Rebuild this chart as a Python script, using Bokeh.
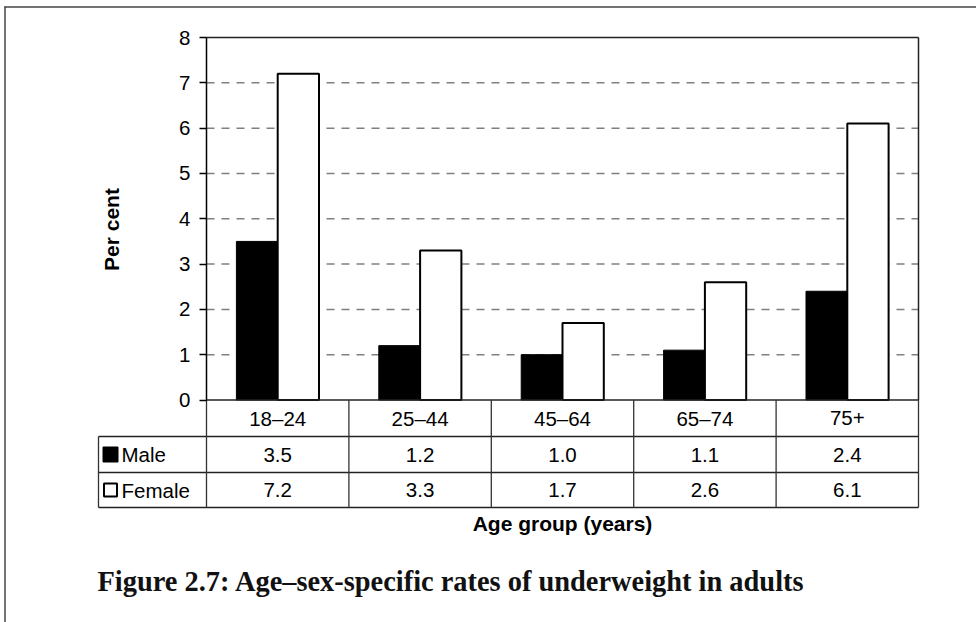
import math
from bokeh.plotting import figure
from bokeh.models import Range1d, LinearAxis, FixedTicker
from bokeh.core.properties import value
from bokeh.embed import file_html
from bokeh.resources import INLINE

# ---------------- data ----------------
categories = ["18–24", "25–44", "45–64", "65–74", "75+"]
male = [3.5, 1.2, 1.0, 1.1, 2.4]
female = [7.2, 3.3, 1.7, 2.6, 6.1]
series = ["Male", "Female"]
y_ticks = [0, 1, 2, 3, 4, 5, 6, 7, 8]
y_label = "Per cent"
x_label = "Age group (years)"
title = "Figure 2.7: Age–sex-specific rates of underweight in adults"

# ---------------- layout (pixels in figure space) ----------------
W, H = 976, 622
PX_X0, PX_X1 = 206.0, 918.0      # plot-area left / right
PX_Y0, PX_YTOP = 399.5, 37.0     # value 0 / value 8
n = len(categories)
ymax = y_ticks[-1]
PX_PER_X = (PX_X1 - PX_X0) / n
PX_PER_Y = (PX_Y0 - PX_YTOP) / ymax


def dx(px):
    return (px - PX_X0) / PX_PER_X


def dy(py):
    return (PX_Y0 - py) / PX_PER_Y


ROW1, ROW2, ROW3 = 436.0, 472.0, 507.0   # table row bottoms
TABLE_LEFT = 98.0

p = figure(width=W, height=H,
           x_range=Range1d(dx(0), dx(W)), y_range=Range1d(dy(H), dy(0)),
           x_axis_type=None, y_axis_type=None,
           toolbar_location=None, tools="", output_backend="svg",
           min_border=0, outline_line_color=None,
           background_fill_color="white", border_fill_color="white")

FONT = value("Liberation Sans")

# outer frame (top and left)
p.segment(x0=[dx(4), dx(4.5)], y0=[dy(6.5), dy(6)],
          x1=[dx(W), dx(4.5)], y1=[dy(6.5), dy(H)],
          line_color="#444444", line_width=1.5)

# dashed grid
grid_y = [t for t in y_ticks if 0 < t < ymax]
p.segment(x0=[0] * len(grid_y), x1=[n] * len(grid_y), y0=grid_y, y1=grid_y,
          line_color="#808080", line_width=1.5, line_dash="8 7")

# plot-area top and right borders
p.segment(x0=[0, n], x1=[n, n], y0=[ymax, 0], y1=[ymax, ymax],
          line_color="#222222", line_width=1.5)

# bars
bw = 0.29
centers = [i + 0.5 for i in range(n)]
p.vbar(x=[c - bw / 2 for c in centers], top=male, bottom=0, width=bw,
       fill_color="black", line_color="black", line_width=1)
p.vbar(x=[c + bw / 2 for c in centers], top=female, bottom=0, width=bw,
       fill_color="white", line_color="black", line_width=2)

# table lines
r1, r2, r3 = dy(ROW1), dy(ROW2), dy(ROW3)
tl = dx(TABLE_LEFT)
hx0 = [0, tl, tl, tl]
hx1 = [n, n, n, n]
hy = [0, r1, r2, r3]
p.segment(x0=hx0, x1=hx1, y0=hy, y1=hy, line_color="#222222", line_width=1.3)
vx = list(range(n + 1)) + [tl]
vy0 = [0] * (n + 1) + [r1]
vy1 = [r3] * (n + 2)
p.segment(x0=vx, x1=vx, y0=vy0, y1=vy1, line_color="#333333", line_width=1.3)

# y axis
ax = LinearAxis(fixed_location=0, ticker=FixedTicker(ticks=y_ticks), bounds=(0, ymax))
ax.axis_line_color = "black"
ax.axis_line_width = 1.5
ax.major_tick_out = 7
ax.major_tick_in = 0
ax.major_tick_line_color = "black"
ax.major_tick_line_width = 1.3
ax.minor_tick_line_color = None
ax.major_label_text_font = "Liberation Sans"
ax.major_label_text_font_size = "20.5px"
ax.major_label_text_color = "black"
ax.major_label_standoff = 9
p.add_layout(ax, "left")

# table texts
row1_mid = (0 + r1) / 2
row2_mid = (r1 + r2) / 2
row3_mid = (r2 + r3) / 2
TS = "20.5px"
p.text(x=centers, y=[row1_mid] * n, text=categories, text_font=FONT,
       text_font_size=TS, text_align="center", text_baseline="middle", text_color="black")
p.text(x=centers, y=[row2_mid] * n, text=["%.1f" % v for v in male], text_font=FONT,
       text_font_size=TS, text_align="center", text_baseline="middle", text_color="black")
p.text(x=centers, y=[row3_mid] * n, text=["%.1f" % v for v in female], text_font=FONT,
       text_font_size=TS, text_align="center", text_baseline="middle", text_color="black")

# legend keys in table
kx = dx(110)
p.scatter(x=[kx], y=[row2_mid], marker="square", size=15,
          fill_color="black", line_color="black", line_width=1)
p.scatter(x=[kx], y=[row3_mid], marker="square", size=13,
          fill_color="white", line_color="black", line_width=2)
p.text(x=[dx(121)] * 2, y=[row2_mid, row3_mid], text=series, text_font=FONT,
       text_font_size=TS, text_align="left", text_baseline="middle", text_color="black")

# axis labels
p.text(x=[dx(111)], y=[dy(229)], text=[y_label], angle=math.pi / 2, text_font=FONT,
       text_font_size="21px", text_font_style="bold", text_align="center",
       text_baseline="middle", text_color="black")
p.text(x=[dx(562)], y=[dy(523)], text=[x_label], text_font=FONT,
       text_font_size="21px", text_font_style="bold", text_align="center",
       text_baseline="middle", text_color="black")

# figure caption
p.text(x=[dx(97)], y=[dy(581)], text=[title], text_font=value("Liberation Serif"),
       text_font_size="28.4px", text_font_style="bold", text_align="left",
       text_baseline="alphabetic", text_color="#111111")

open("out.html", "w").write(file_html(p, INLINE))
